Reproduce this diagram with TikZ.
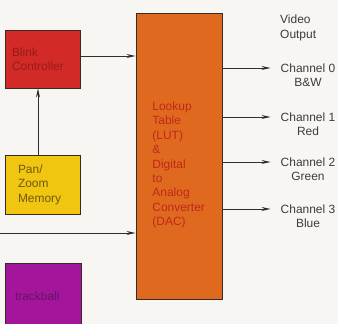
\documentclass[tikz,border=0pt]{standalone}
\usepackage{fontspec}
\setmainfont{Liberation Sans}
\usetikzlibrary{positioning, arrows.meta}
\definecolor{paper}{HTML}{F7F6F3}
\definecolor{edge}{HTML}{3A2A25}
\definecolor{wire}{HTML}{2E2E2E}
\definecolor{ink}{HTML}{3C3C3C}
\definecolor{blinkred}{HTML}{D22B27}
\definecolor{blinktxt}{HTML}{9A1A1A}
\definecolor{panyel}{HTML}{F0C610}
\definecolor{pantxt}{HTML}{6E5A12}
\definecolor{trackmag}{HTML}{A3169C}
\definecolor{tracktxt}{HTML}{6A1266}
\definecolor{lutorange}{HTML}{DF6A1F}
\definecolor{luttxt}{HTML}{C4261A}
\tikzset{
  blk/.style={draw=edge, fill=#1, line width=0.9pt, align=left, inner sep=0pt,
              font=\fontsize{12}{14.5}\selectfont},
  blk/.default=lutorange,
  arr/.style={-{Stealth[length=9bp, width=4bp]}, line width=1pt, draw=wire},
  lbl/.style={font=\fontsize{12}{14.5}\selectfont, text=ink, inner sep=0pt, align=center},
}

\begin{document}
\begin{tikzpicture}[x=1bp, y=-1bp]
  \useasboundingbox[fill=paper] (0,0) rectangle (338,324);
  % input side
  \node[blk=blinkred, text=blinktxt, minimum width=75bp, minimum height=58bp, text width=61bp] (blink) at (42.5,59) {Blink\\Controller};
  \node[blk=panyel, text=pantxt, minimum width=75bp, minimum height=59bp, text width=49bp] (panzoom) at (42.5,184.5) {Pan/\\Zoom\\Memory};
  \node[blk=trackmag, text=tracktxt, minimum width=76bp, minimum height=66bp, text width=56bp] (track) at (43,296) {trackball};
  % LUT / DAC
  \node[blk=lutorange, minimum width=86bp, minimum height=286bp] (lut) at (179,156) {};
  \node[blk=lutorange, draw=none, text=luttxt, anchor=west] (lutlbl) at (152,165) {Lookup\\Table\\(LUT)\\\&\\Digital\\to\\Analog\\Converter\\(DAC)};
  % outputs
  \node[lbl, align=left, anchor=west] (vidout) at (280,28) {Video\\Output};
  \node[lbl] (ch0) at (308,75.5) {Channel 0\\B\&W};
  \node[lbl] (ch1) at (308,124) {Channel 1\\Red};
  \node[lbl] (ch2) at (308,169) {Channel 2\\Green};
  \node[lbl] (ch3) at (308,216) {Channel 3\\Blue};
  \coordinate (vidin) at (0,233);
  \coordinate (t0) at ([xshift=-10bp, yshift=7.5bp]ch0.west);
  \coordinate (t1) at ([xshift=-10bp, yshift=7bp]ch1.west);
  \coordinate (t2) at ([xshift=-10bp, yshift=7bp]ch2.west);
  \coordinate (t3) at ([xshift=-10bp, yshift=7bp]ch3.west);
  \draw[arr] ([xshift=-4.5bp]panzoom.north) -- ([xshift=-4.5bp]blink.south);
  \draw[arr] ([yshift=3bp]blink.east) -- ([yshift=3bp]blink.east -| lut.west);
  \draw[arr] (vidin) -- (vidin -| lut.west);
  \draw[arr] (t0 -| lut.east) -- (t0);
  \draw[arr] (t1 -| lut.east) -- (t1);
  \draw[arr] (t2 -| lut.east) -- (t2);
  \draw[arr] (t3 -| lut.east) -- (t3);
\end{tikzpicture}
\end{document}
